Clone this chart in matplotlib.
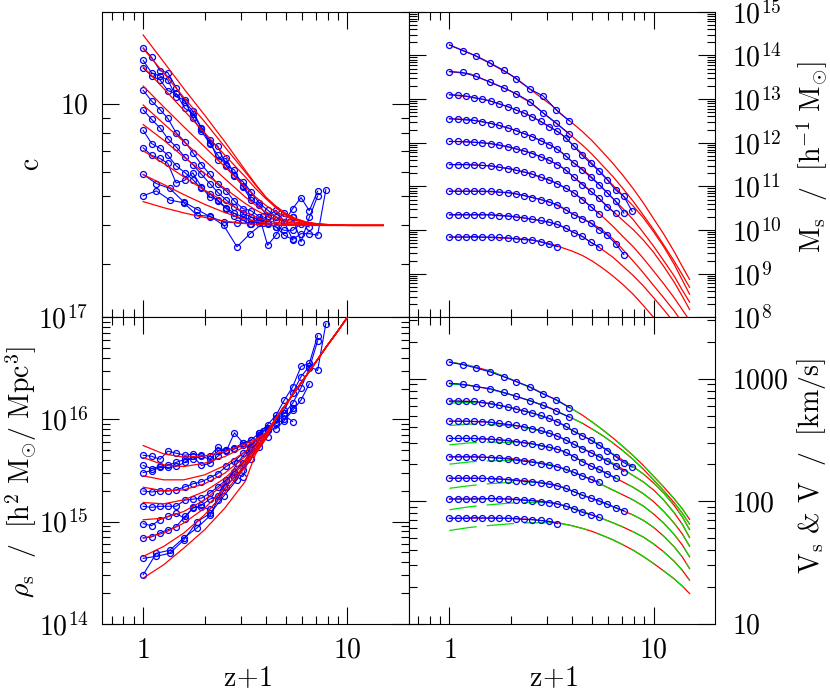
import numpy as np
import matplotlib
matplotlib.use("Agg")
import matplotlib.pyplot as plt
from matplotlib.ticker import LogLocator, FixedLocator, FixedFormatter, NullFormatter

plt.rcParams['mathtext.fontset'] = 'cm'
plt.rcParams['font.family'] = ['cmr10', 'DejaVu Serif']

# ---------------- data ----------------
# snapshot values of z+1 (two simulation output grids)
x_grid_a = [1.00, 1.16, 1.35, 1.58, 1.84, 2.13, 2.48, 2.88, 3.34, 3.87]
x_grid_b = [1.00, 1.10, 1.21, 1.32, 1.45, 1.60, 1.75, 1.93, 2.12, 2.32, 2.55, 2.80,
            3.08, 3.38, 3.71, 4.07, 4.47, 4.91, 5.40, 5.93, 6.51, 7.15, 7.85]
halo_grid = ['a', 'a', 'b', 'b', 'b', 'b', 'b', 'b', 'b']
halo_npts = [10, 10, 23, 22, 21, 19, 22, 19, 14]

# z+1 where the model curves were read
x_model = [1.0, 1.26, 1.58, 2.0, 2.51, 3.16, 3.55, 3.98, 4.47, 5.01, 5.62, 6.31,
           7.08, 7.94, 8.91, 10.0, 11.2, 12.6, 13.8, 15.0]

# log10 concentration (simulation halos)
logc_sim = [
    [0.699, 0.715, 0.685, 0.676, 0.635, 0.632, 0.602, 0.532, 0.575, 0.610],
    [0.769, 0.739, 0.723, 0.679, 0.654, 0.630, 0.614, 0.610, 0.608, 0.632],
    [0.856, 0.831, 0.821, 0.805, 0.741, 0.750, 0.774, 0.728, 0.695, 0.685, 0.660, 0.641,
     0.630, 0.619, 0.610, 0.606, 0.597, 0.570, 0.556, 0.575, 0.575, 0.570, 0.719],
    [0.913, 0.870, 0.854, 0.832, 0.797, 0.775, 0.752, 0.723, 0.706, 0.682, 0.657, 0.632,
     0.619, 0.605, 0.619, 0.632, 0.652, 0.614, 0.628, 0.548, 0.628, 0.698],
    [0.980, 0.949, 0.921, 0.886, 0.859, 0.826, 0.801, 0.769, 0.739, 0.710, 0.685, 0.663,
     0.641, 0.630, 0.619, 0.610, 0.597, 0.586, 0.586, 0.608, 0.597],
    [1.044, 1.009, 0.981, 0.952, 0.905, 0.876, 0.840, 0.801, 0.769, 0.736, 0.715, 0.681,
     0.657, 0.650, 0.630, 0.537, 0.570, 0.614, 0.554],
    [1.117, 1.091, 1.078, 1.043, 1.034, 0.985, 0.968, 0.919, 0.881, 0.816, 0.821, 0.766,
     0.745, 0.712, 0.674, 0.652, 0.630, 0.614, 0.657, 0.693, 0.650, 0.714],
    [1.142, 1.101, 1.091, 1.078, 1.023, 1.012, 0.954, 0.910, 0.870, 0.832, 0.799, 0.783,
     0.728, 0.685, 0.668, 0.630, 0.619, 0.641, 0.628],
    [1.183, 1.152, 1.108, 1.102, 1.053, 1.007, 0.976, 0.921, 0.872, 0.862, 0.797, 0.763,
     0.731, 0.695],
]
logc_model = [
    [0.680, 0.660, 0.643, 0.628, 0.616, 0.608, 0.606, 0.604, 0.602, 0.602, 0.602, 0.602,
     0.602, 0.602, 0.602, 0.602, 0.602, 0.602, 0.602, 0.602],
    [0.768, 0.736, 0.703, 0.671, 0.644, 0.622, 0.616, 0.610, 0.607, 0.605, 0.604, 0.602,
     0.602, 0.602, 0.602, 0.602, 0.602, 0.602, 0.602, 0.602],
    [0.846, 0.805, 0.761, 0.717, 0.679, 0.644, 0.630, 0.619, 0.612, 0.608, 0.606, 0.604,
     0.603, 0.602, 0.602, 0.602, 0.602, 0.602, 0.602, 0.602],
    [0.932, 0.881, 0.826, 0.772, 0.723, 0.674, 0.653, 0.635, 0.622, 0.613, 0.609, 0.606,
     0.604, 0.602, 0.602, 0.602, 0.602, 0.602, 0.602, 0.602],
    [0.996, 0.935, 0.876, 0.815, 0.755, 0.695, 0.669, 0.646, 0.630, 0.619, 0.612, 0.608,
     0.606, 0.604, 0.603, 0.602, 0.602, 0.602, 0.602, 0.602],
    [1.058, 0.990, 0.925, 0.859, 0.794, 0.728, 0.695, 0.668, 0.646, 0.630, 0.618, 0.610,
     0.606, 0.604, 0.603, 0.602, 0.602, 0.602, 0.602, 0.602],
    [1.121, 1.050, 0.979, 0.905, 0.832, 0.761, 0.723, 0.690, 0.660, 0.637, 0.622, 0.612,
     0.607, 0.605, 0.603, 0.602, 0.602, 0.602, 0.602, 0.602],
    [1.181, 1.101, 1.021, 0.941, 0.859, 0.777, 0.734, 0.695, 0.665, 0.641, 0.624, 0.613,
     0.608, 0.605, 0.603, 0.602, 0.602, 0.602, 0.602, 0.602],
    [1.225, 1.137, 1.050, 0.963, 0.876, 0.783, 0.737, 0.695, 0.660, 0.635, 0.619, 0.610,
     0.606, 0.604, 0.603, 0.602, 0.602, 0.602, 0.602, 0.602],
]

# log10 Ms [h^-1 Msun]
logms_sim = [
    [14.24, 14.11, 13.99, 13.83, 13.66, 13.47, 13.23, 13.07, 12.75, 12.50],
    [13.63, 13.61, 13.52, 13.39, 13.26, 13.12, 12.94, 12.68, 12.45, 12.20],
    [13.10, 13.09, 13.07, 13.03, 13.00, 12.95, 12.89, 12.83, 12.75, 12.68, 12.59, 12.49,
     12.37, 12.26, 12.12, 11.92, 11.71, 11.53, 11.35, 11.15, 10.92, 10.77, 10.43],
    [12.55, 12.54, 12.52, 12.51, 12.48, 12.44, 12.40, 12.34, 12.28, 12.21, 12.14, 12.05,
     11.96, 11.85, 11.70, 11.53, 11.38, 11.21, 11.04, 10.85, 10.66, 10.39],
    [12.03, 12.03, 12.02, 12.01, 12.00, 11.98, 11.95, 11.91, 11.86, 11.81, 11.75, 11.68,
     11.60, 11.50, 11.38, 11.21, 11.04, 10.89, 10.73, 10.53, 10.38],
    [11.50, 11.50, 11.50, 11.49, 11.48, 11.47, 11.44, 11.41, 11.37, 11.33, 11.28, 11.21,
     11.15, 11.06, 10.96, 10.85, 10.70, 10.54, 10.37],
    [10.89, 10.89, 10.89, 10.89, 10.89, 10.89, 10.87, 10.86, 10.83, 10.79, 10.74, 10.70,
     10.64, 10.58, 10.47, 10.35, 10.26, 10.16, 10.01, 9.88, 9.69, 9.44],
    [10.35, 10.35, 10.35, 10.35, 10.35, 10.35, 10.33, 10.32, 10.30, 10.28, 10.25, 10.22,
     10.18, 10.13, 10.04, 9.94, 9.86, 9.72, 9.62],
    [9.84, 9.84, 9.84, 9.85, 9.84, 9.84, 9.83, 9.82, 9.80, 9.78, 9.77, 9.73, 9.67, 9.62],
]
logms_model = [
    [14.24, 14.05, 13.82, 13.55, 13.21, 12.86, 12.64, 12.46, 12.26, 12.04, 11.79, 11.53,
     11.25, 10.95, 10.62, 10.26, 9.91, 9.51, 9.17, 8.87],
    [13.63, 13.58, 13.39, 13.18, 12.91, 12.53, 12.34, 12.15, 11.95, 11.73, 11.48, 11.23,
     10.95, 10.66, 10.34, 10.01, 9.66, 9.29, 8.98, 8.69],
    [13.10, 13.05, 12.96, 12.80, 12.61, 12.34, 12.19, 11.97, 11.75, 11.52, 11.28, 11.03,
     10.79, 10.55, 10.28, 9.96, 9.62, 9.22, 8.86, 8.53],
    [12.55, 12.53, 12.45, 12.32, 12.15, 11.93, 11.78, 11.57, 11.40, 11.20, 10.97, 10.73,
     10.49, 10.24, 9.94, 9.63, 9.30, 8.95, 8.63, 8.35],
    [12.03, 12.02, 11.98, 11.89, 11.77, 11.57, 11.44, 11.25, 11.06, 10.86, 10.65, 10.43,
     10.22, 10.01, 9.77, 9.49, 9.17, 8.81, 8.49, 8.18],
    [11.50, 11.50, 11.47, 11.40, 11.29, 11.12, 11.01, 10.88, 10.71, 10.51, 10.31, 10.09,
     9.85, 9.62, 9.35, 9.06, 8.77, 8.45, 8.18, 7.93],
    [10.89, 10.89, 10.88, 10.85, 10.76, 10.63, 10.51, 10.38, 10.27, 10.15, 10.00, 9.80,
     9.55, 9.29, 9.02, 8.73, 8.45, 8.15, 7.89, 7.65],
    [10.35, 10.35, 10.35, 10.32, 10.25, 10.17, 10.09, 9.97, 9.85, 9.70, 9.55, 9.38,
     9.17, 8.96, 8.72, 8.45, 8.18, 7.88, 7.61, 7.38],
    [9.84, 9.84, 9.83, 9.81, 9.78, 9.68, 9.60, 9.52, 9.42, 9.29, 9.13, 8.95,
     8.75, 8.53, 8.27, 8.00, 7.69, 7.36, 7.07, 6.81],
]

# log10 rho_s [h^2 Msun / Mpc^3]
logrho_sim = [
    [14.48, 14.69, 14.72, 14.84, 14.94, 15.06, 15.34, 15.57, 15.73, 15.89],
    [14.64, 14.66, 14.69, 14.82, 15.00, 15.08, 15.25, 15.41, 15.67, 15.87],
    [14.84, 14.85, 14.89, 14.92, 14.95, 15.05, 15.13, 15.16, 15.22, 15.25, 15.41, 15.47,
     15.44, 15.70, 15.73, 15.90, 16.01, 16.09, 16.26, 16.42, 16.52, 16.48, 16.94],
    [14.98, 14.96, 15.02, 15.05, 15.08, 15.03, 15.14, 15.14, 15.12, 15.21, 15.34, 15.44,
     15.51, 15.61, 15.77, 15.83, 16.00, 16.06, 16.16, 16.31, 16.50, 16.77],
    [15.15, 15.14, 15.15, 15.15, 15.15, 15.21, 15.22, 15.23, 15.28, 15.34, 15.41, 15.49,
     15.57, 15.70, 15.80, 15.90, 15.91, 15.99, 16.09, 16.19, 16.35],
    [15.30, 15.29, 15.30, 15.30, 15.31, 15.34, 15.37, 15.39, 15.43, 15.47, 15.54, 15.59,
     15.67, 15.73, 15.85, 15.92, 15.96, 16.00, 16.11],
    [15.48, 15.50, 15.53, 15.53, 15.54, 15.58, 15.64, 15.55, 15.57, 15.64, 15.70, 15.72,
     15.77, 15.72, 15.87, 15.95, 16.04, 16.19, 16.32, 16.52, 16.55, 16.82],
    [15.55, 15.52, 15.54, 15.55, 15.58, 15.61, 15.61, 15.64, 15.61, 15.69, 15.70, 15.71,
     15.75, 15.80, 15.87, 15.91, 15.98, 16.04, 15.98],
    [15.65, 15.64, 15.61, 15.69, 15.67, 15.65, 15.66, 15.65, 15.64, 15.73, 15.69, 15.87,
     15.77, 15.80],
]
# model rho_s: halo-specific part (z+1 = 1 ... 3.98) and common high-z part (4.47 ... 15)
logrho_model_low = [
    [14.447, 14.577, 14.740, 14.920, 15.132, 15.393, 15.660, 15.807],
    [14.659, 14.757, 14.887, 15.067, 15.285, 15.533, 15.676, 15.813],
    [14.838, 14.887, 14.985, 15.132, 15.327, 15.556, 15.689, 15.820],
    [15.018, 15.034, 15.099, 15.213, 15.376, 15.578, 15.702, 15.826],
    [15.187, 15.174, 15.213, 15.295, 15.425, 15.605, 15.719, 15.833],
    [15.337, 15.301, 15.311, 15.370, 15.474, 15.637, 15.738, 15.839],
    [15.448, 15.409, 15.409, 15.458, 15.549, 15.686, 15.768, 15.849],
    [15.627, 15.556, 15.539, 15.572, 15.637, 15.735, 15.797, 15.859],
    [15.745, 15.663, 15.631, 15.644, 15.686, 15.761, 15.807, 15.865],
]
logrho_model_high = [16.012, 16.149, 16.292, 16.433, 16.576, 16.720, 16.857, 17.000,
                     17.139, 17.281, 17.398, 17.499]

# log10 Vs [km/s]
logvs_sim = [
    [3.134, 3.115, 3.087, 3.055, 3.016, 2.975, 2.932, 2.874, 2.828, 2.763],
    [2.962, 2.954, 2.935, 2.918, 2.888, 2.855, 2.820, 2.782, 2.735, 2.686],
    [2.817, 2.817, 2.814, 2.814, 2.804, 2.795, 2.782, 2.768, 2.752, 2.735, 2.719, 2.700,
     2.675, 2.648, 2.610, 2.569, 2.534, 2.498, 2.457, 2.413, 2.364, 2.315, 2.277],
    [2.653, 2.653, 2.653, 2.651, 2.648, 2.643, 2.634, 2.626, 2.618, 2.607, 2.593, 2.577,
     2.555, 2.531, 2.501, 2.463, 2.427, 2.397, 2.362, 2.326, 2.288, 2.242],
    [2.512, 2.512, 2.512, 2.512, 2.509, 2.506, 2.501, 2.495, 2.484, 2.476, 2.468, 2.454,
     2.441, 2.424, 2.400, 2.364, 2.323, 2.288, 2.261, 2.225, 2.187],
    [2.362, 2.362, 2.362, 2.362, 2.359, 2.356, 2.351, 2.345, 2.334, 2.326, 2.318, 2.307,
     2.293, 2.280, 2.261, 2.236, 2.206, 2.179, 2.157],
    [2.187, 2.187, 2.187, 2.187, 2.187, 2.184, 2.181, 2.176, 2.168, 2.162, 2.157, 2.149,
     2.138, 2.124, 2.105, 2.078, 2.048, 2.026, 2.004, 1.977, 1.947, 1.922],
    [2.018, 2.018, 2.018, 2.018, 2.020, 2.023, 2.020, 2.018, 2.012, 2.007, 2.004, 1.996,
     1.988, 1.977, 1.960, 1.936, 1.909, 1.890, 1.868],
    [1.860, 1.860, 1.860, 1.865, 1.862, 1.862, 1.860, 1.860, 1.857, 1.851, 1.849, 1.843,
     1.835, 1.816],
]
logvs_model = [
    [3.136, 3.106, 3.063, 2.995, 2.926, 2.845, 2.801, 2.754, 2.703, 2.645, 2.583, 2.517,
     2.446, 2.372, 2.291, 2.203, 2.116, 2.020, 1.939, 1.851],
    [2.962, 2.945, 2.915, 2.869, 2.817, 2.757, 2.714, 2.678, 2.637, 2.588, 2.536, 2.476,
     2.411, 2.340, 2.261, 2.173, 2.086, 1.988, 1.903, 1.813],
    [2.817, 2.815, 2.798, 2.763, 2.722, 2.667, 2.629, 2.580, 2.536, 2.495, 2.443, 2.386,
     2.334, 2.282, 2.222, 2.149, 2.067, 1.966, 1.873, 1.769],
    [2.653, 2.651, 2.645, 2.623, 2.593, 2.550, 2.514, 2.473, 2.433, 2.392, 2.351, 2.310,
     2.261, 2.209, 2.157, 2.091, 2.010, 1.906, 1.813, 1.704],
    [2.512, 2.512, 2.506, 2.492, 2.471, 2.435, 2.413, 2.370, 2.326, 2.282, 2.242, 2.201,
     2.157, 2.113, 2.061, 1.996, 1.917, 1.821, 1.734, 1.633],
    [2.362, 2.362, 2.357, 2.348, 2.326, 2.296, 2.269, 2.239, 2.209, 2.173, 2.132, 2.091,
     2.051, 2.010, 1.960, 1.895, 1.821, 1.729, 1.644, 1.546],
    [2.187, 2.187, 2.184, 2.176, 2.162, 2.141, 2.116, 2.083, 2.051, 2.020, 1.988, 1.955,
     1.922, 1.887, 1.843, 1.786, 1.715, 1.628, 1.546, 1.450],
    [2.018, 2.018, 2.020, 2.018, 2.007, 1.990, 1.969, 1.944, 1.917, 1.887, 1.857, 1.824,
     1.789, 1.750, 1.707, 1.651, 1.587, 1.510, 1.437, 1.355],
    [1.860, 1.862, 1.862, 1.860, 1.851, 1.832, 1.817, 1.800, 1.778, 1.753, 1.720, 1.685,
     1.644, 1.600, 1.548, 1.491, 1.431, 1.366, 1.308, 1.246],
]
# log10 V (virial velocity, green dashed)
logv_model = [
    [3.136, 3.106, 3.063, 2.995, 2.926, 2.845, 2.801, 2.754, 2.703, 2.645, 2.583, 2.517,
     2.446, 2.372, 2.291, 2.203, 2.116, 2.020, 1.939, 1.851],
    [2.956, 2.945, 2.915, 2.869, 2.817, 2.757, 2.714, 2.678, 2.637, 2.588, 2.536, 2.476,
     2.411, 2.340, 2.261, 2.173, 2.086, 1.988, 1.903, 1.813],
    [2.801, 2.806, 2.795, 2.763, 2.722, 2.667, 2.629, 2.580, 2.536, 2.495, 2.443, 2.386,
     2.334, 2.282, 2.222, 2.149, 2.067, 1.966, 1.873, 1.769],
    [2.618, 2.629, 2.626, 2.615, 2.591, 2.550, 2.514, 2.473, 2.433, 2.392, 2.351, 2.310,
     2.261, 2.209, 2.157, 2.091, 2.010, 1.906, 1.813, 1.704],
    [2.460, 2.476, 2.482, 2.479, 2.468, 2.435, 2.413, 2.370, 2.326, 2.282, 2.242, 2.201,
     2.157, 2.113, 2.061, 1.996, 1.917, 1.821, 1.734, 1.633],
    [2.302, 2.321, 2.329, 2.332, 2.321, 2.296, 2.269, 2.239, 2.209, 2.173, 2.132, 2.091,
     2.051, 2.010, 1.960, 1.895, 1.821, 1.729, 1.644, 1.546],
    [2.105, 2.127, 2.143, 2.154, 2.157, 2.141, 2.116, 2.083, 2.051, 2.020, 1.988, 1.955,
     1.922, 1.887, 1.843, 1.786, 1.715, 1.628, 1.546, 1.450],
    [1.930, 1.955, 1.971, 1.985, 1.990, 1.988, 1.969, 1.944, 1.917, 1.887, 1.857, 1.824,
     1.789, 1.750, 1.707, 1.651, 1.587, 1.510, 1.437, 1.355],
    [1.761, 1.786, 1.802, 1.816, 1.824, 1.824, 1.817, 1.800, 1.778, 1.753, 1.720, 1.685,
     1.644, 1.600, 1.548, 1.491, 1.431, 1.366, 1.308, 1.246],
]

# ---------------- styling ----------------
BLUE = '#0000ff'
RED = '#ff0000'
GREEN = '#00e000'
FS = 20

fig = plt.figure(figsize=(8.3, 6.93), dpi=100)
W = 0.369
ax_c = fig.add_axes([0.1233, 0.542, W, 0.441])
ax_m = fig.add_axes([0.4923, 0.542, W, 0.441])
ax_r = fig.add_axes([0.1233, 0.100, W, 0.442])
ax_v = fig.add_axes([0.4923, 0.100, W, 0.442])


def halo_x(h):
    g = x_grid_a if halo_grid[h] == 'a' else x_grid_b
    return g[:halo_npts[h]]


def draw_sim(ax, data, z=3):
    for h, vals in enumerate(data):
        ax.plot(halo_x(h), 10 ** np.asarray(vals), '-o', color=BLUE, lw=0.8,
                ms=4.3, mfc='none', mec=BLUE, mew=0.9, zorder=z)


def draw_model(ax, data, color=RED, z=2, dashed=False):
    for vals in data:
        ln, = ax.plot(x_model, 10 ** np.asarray(vals), color=color, lw=0.9, zorder=z)
        if dashed:
            ln.set_dashes((22, 8))


logrho_model = [low + logrho_model_high for low in logrho_model_low]

draw_sim(ax_c, logc_sim, z=2)
draw_model(ax_c, logc_model, z=3)
draw_model(ax_m, logms_model, z=2)
draw_sim(ax_m, logms_sim, z=3)
draw_sim(ax_r, logrho_sim, z=2)
draw_model(ax_r, logrho_model, z=3)
draw_model(ax_v, logvs_model, z=2)
draw_model(ax_v, logv_model, color=GREEN, z=2.5, dashed=True)
draw_sim(ax_v, logvs_sim, z=3)

xlim = (10 ** -0.2, 10 ** 1.3)
for ax in (ax_c, ax_m, ax_r, ax_v):
    ax.set_xscale('log')
    ax.set_yscale('log')
    ax.set_xlim(*xlim)
    ax.xaxis.set_major_locator(FixedLocator([1, 10]))
    ax.xaxis.set_minor_locator(LogLocator(base=10, subs=np.arange(2, 10), numticks=50))
    ax.xaxis.set_minor_formatter(NullFormatter())
    ax.yaxis.set_minor_locator(LogLocator(base=10, subs=np.arange(2, 10), numticks=50))
    ax.yaxis.set_minor_formatter(NullFormatter())
    ax.tick_params(which='both', direction='in', top=True, right=True, bottom=True,
                   left=True, width=0.8, labelsize=FS)
    ax.tick_params(which='major', length=12.5)
    ax.tick_params(which='minor', length=6)
    for sp in ax.spines.values():
        sp.set_linewidth(0.8)

ax_c.set_ylim(2, 20)
ax_m.set_ylim(1e8, 1e15)
ax_r.set_ylim(1e14, 1e17)
ax_v.set_ylim(10, 10 ** 3.5)

# y tick labels
ax_c.yaxis.set_major_locator(FixedLocator([10]))
ax_c.yaxis.set_major_formatter(FixedFormatter([r'$10$']))
ms_ticks = [10.0 ** k for k in range(8, 16)]
ax_m.yaxis.set_major_locator(FixedLocator(ms_ticks))
ax_m.yaxis.set_major_formatter(FixedFormatter([r'$10^{%d}$' % k for k in range(8, 16)]))
rho_ticks = [10.0 ** k for k in range(14, 18)]
ax_r.yaxis.set_major_locator(FixedLocator(rho_ticks))
ax_r.yaxis.set_major_formatter(FixedFormatter([r'$10^{%d}$' % k for k in range(14, 18)]))
ax_v.yaxis.set_major_locator(FixedLocator([10, 100, 1000]))
ax_v.yaxis.set_major_formatter(FixedFormatter([r'$10$', r'$100$', r'$1000$']))

for ax in (ax_c, ax_r):
    ax.tick_params(axis='y', labelleft=True, labelright=False, pad=10)
for ax in (ax_m, ax_v):
    ax.tick_params(axis='y', labelleft=False, labelright=True, pad=12)
for ax in (ax_c, ax_m):
    ax.tick_params(axis='x', labelbottom=False)
for ax in (ax_r, ax_v):
    ax.xaxis.set_major_formatter(FixedFormatter([r'$1$', r'$10$']))
    ax.tick_params(axis='x', labelbottom=True, pad=10)

# axis labels
fig.text(0.0386, 0.763, r'$\mathrm{c}$', rotation=90, fontsize=FS, ha='center', va='center')
fig.text(0.0253, 0.319, r'$\rho_{\rm s}\ \ /\ \ [{\rm h^2\ M_{\odot}/\ Mpc^3}]$',
         rotation=90, fontsize=FS, ha='center', va='center')
fig.text(0.978, 0.773, r'${\rm M_s\ \ /\ \ [h^{-1}\ M_{\odot}]}$', rotation=90,
         fontsize=FS, ha='center', va='center')
fig.text(0.978, 0.327, r'${\rm V_s}$ & ${\rm V\ \ /\ \ [km/s]}$', rotation=90,
         fontsize=FS, ha='center', va='center')
fig.text(0.298, 0.020, r'${\rm z\!+\!1}$', fontsize=FS, ha='center', va='center')
fig.text(0.667, 0.020, r'${\rm z\!+\!1}$', fontsize=FS, ha='center', va='center')

fig.savefig('out.png', dpi=100)
